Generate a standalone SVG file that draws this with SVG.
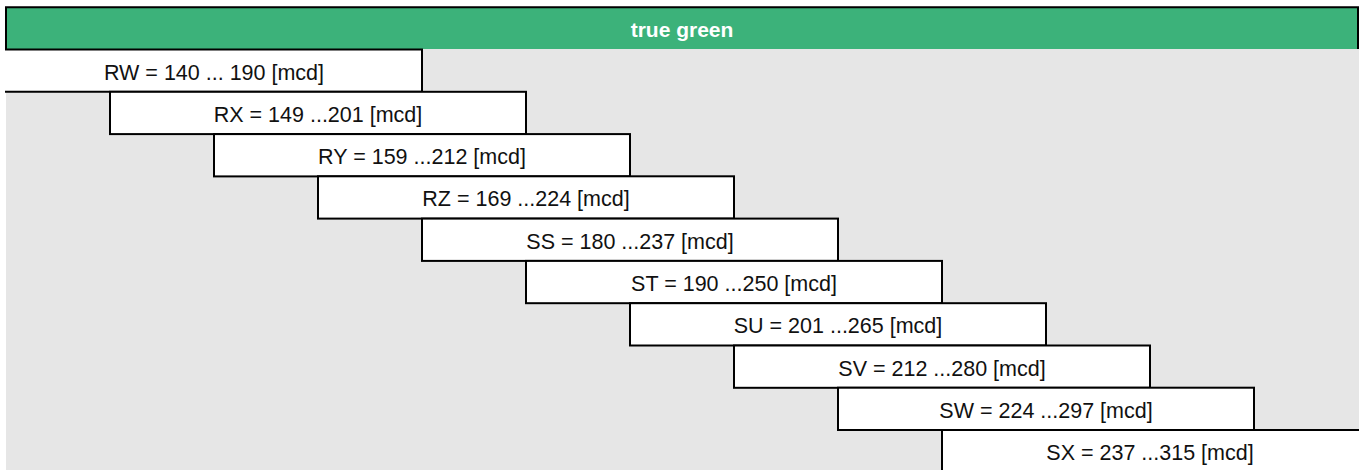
<svg xmlns="http://www.w3.org/2000/svg" width="1372" height="470" viewBox="0 0 1372 470">
<style>
.bx{fill:#ffffff;stroke:#000000;stroke-width:2}
.ln{fill:none;stroke:#000000;stroke-width:2}
.lbl{font-family:"Liberation Sans",Arial,Helvetica,sans-serif;font-size:21.5px;fill:#111111;text-anchor:middle}
.hd{font-family:"Liberation Sans",Arial,Helvetica,sans-serif;font-size:21px;font-weight:bold;fill:#ffffff;text-anchor:middle}
</style>
<rect x="0" y="0" width="1372" height="470" fill="#ffffff"/>
<rect id="bg" x="6" y="49" width="1353" height="421" fill="#e6e6e6"/>
<g id="header">
<rect x="6" y="7" width="1352" height="42" fill="#3cb27a"/>
<path class="ln" d="M6,49.5 V7.2 H1358 V49"/>
<text class="hd" x="682" y="36.5">true green</text>
</g>
<g id="rw"><rect x="0" y="49.5" width="422" height="42.3" fill="#ffffff"/><path class="ln" d="M5,49.5 H422 V91.8 H5"/><text class="lbl" x="214" y="79.5">RW = 140 ... 190 [mcd]</text></g>
<g id="rx"><rect class="bx" x="110" y="91.8" width="416" height="42.3"/><text class="lbl" x="318" y="121.8">RX = 149 ...201 [mcd]</text></g>
<g id="ry"><rect class="bx" x="214" y="134.1" width="416" height="42.3"/><text class="lbl" x="422" y="164.1">RY = 159 ...212 [mcd]</text></g>
<g id="rz"><rect class="bx" x="318" y="176.3" width="416" height="42.3"/><text class="lbl" x="526" y="206.3">RZ = 169 ...224 [mcd]</text></g>
<g id="ss"><rect class="bx" x="422" y="218.6" width="416" height="42.3"/><text class="lbl" x="630" y="248.6">SS = 180 ...237 [mcd]</text></g>
<g id="st"><rect class="bx" x="526" y="260.9" width="416" height="42.3"/><text class="lbl" x="734" y="290.9">ST = 190 ...250 [mcd]</text></g>
<g id="su"><rect class="bx" x="630" y="303.2" width="416" height="42.3"/><text class="lbl" x="838" y="333.2">SU = 201 ...265 [mcd]</text></g>
<g id="sv"><rect class="bx" x="734" y="345.5" width="416" height="42.3"/><text class="lbl" x="942" y="375.5">SV = 212 ...280 [mcd]</text></g>
<g id="sw"><rect class="bx" x="838" y="387.7" width="416" height="42.3"/><text class="lbl" x="1046" y="417.7">SW = 224 ...297 [mcd]</text></g>
<g id="sx"><rect x="942" y="430" width="430" height="40" fill="#ffffff"/><path class="ln" d="M942,471 V430 H1359"/><text class="lbl" x="1150" y="460">SX = 237 ...315 [mcd]</text></g>
<g id="connectors"></g>
</svg>
